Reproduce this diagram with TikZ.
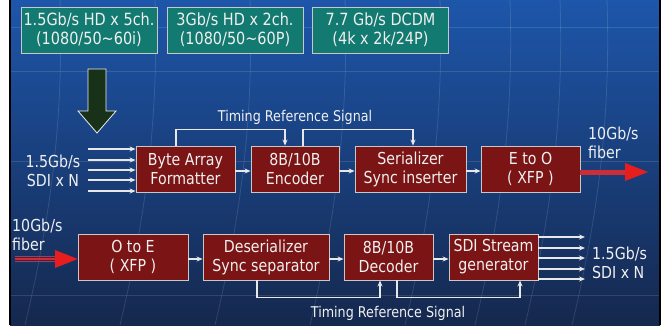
\documentclass[tikz,border=0pt]{standalone}
\usepackage{fontspec}
\setmainfont{DejaVu Sans}[FakeStretch=0.86]
\usetikzlibrary{arrows.meta,calc}
\definecolor{bgtop}{RGB}{29,86,170}
\definecolor{bgmid}{RGB}{27,62,128}
\definecolor{bgbot}{RGB}{21,40,78}
\definecolor{boxred}{RGB}{123,20,20}
\definecolor{boxgreen}{RGB}{18,122,112}
\definecolor{edge}{RGB}{200,200,200}
\definecolor{txt}{RGB}{240,240,240}
\definecolor{wirec}{RGB}{232,232,232}
\definecolor{shaftred}{RGB}{205,45,55}
\definecolor{headred}{RGB}{232,30,30}
\definecolor{arrowgreen}{RGB}{24,50,26}
\tikzset{
  redbox/.style={draw=edge, fill=boxred, line width=0.9pt, text=txt, align=center,
    minimum height=46pt, inner sep=0pt, font=\fontsize{16.5}{19}\selectfont},
  greenbox/.style={draw=edge, fill=boxgreen, line width=0.9pt, text=txt, align=center,
    minimum height=46pt, minimum width=136pt, inner sep=0pt, font=\fontsize{16.8}{19}\selectfont},
  lbl/.style={text=txt, inner sep=0pt, font=\fontsize{16.5}{19}\selectfont},
  tlbl/.style={text=txt, inner sep=0pt, font=\fontsize{14.8}{18}\selectfont},
  wire/.style={draw=wirec, line width=1.1pt, -{Stealth[length=6pt,width=5pt]}},
  gridline/.style={draw=white, opacity=0.12, line width=0.8pt},
}
\begin{document}
\begin{tikzpicture}[x=1pt,y=-1pt]
\useasboundingbox (0,0) rectangle (663,325);
% background
\fill[white] (0,0) rectangle (663,325);
\shade[top color=bgtop, middle color=bgmid, bottom color=bgbot] (10,0) rectangle (660,325);
\draw[black, line width=1.5pt] (10,0) -- (10,325);
\draw[black, line width=1.5pt] (660,0) -- (660,325);
% faint grid
\foreach \yy in {27,71,161,295} \draw[gridline] (11,\yy) -- (659,\yy);
\foreach \xx in {60,155,250,345,440,510,560,607}
  \draw[gridline] (\xx,0) .. controls (\xx+4,120) and (\xx-10,220) .. (\xx-35,325);

% green boxes
\node[greenbox] (g1) at (89,30) {1.5Gb/s HD x 5ch.\\(1080/50\textasciitilde 60i)};
\node[greenbox] (g2) at (235,30) {3Gb/s HD x 2ch.\\(1080/50\textasciitilde 60P)};
\node[greenbox] (g3) at (380.5,30) {7.7 Gb/s DCDM\\(4k x 2k/24P)};

% green down arrow
\draw[fill=arrowgreen, draw=white!85!gray, line width=0.8pt]
  (88,69) -- (106,69) -- (106,111) -- (116,111) -- (97,133) -- (78,111) -- (88,111) -- cycle;

% top row
\node[redbox, minimum width=99pt] (ba) at (185.5,169) {Byte Array\\Formatter};
\node[redbox, minimum width=88pt] (enc) at (295,169) {8B/10B\\Encoder};
\node[redbox, minimum width=111pt] (ser) at (410.5,169) {Serializer\\Sync inserter};
\node[redbox, minimum width=99pt] (eto) at (530.5,169) {E to O\\( XFP )};

% bottom row
\node[redbox, minimum width=110pt] (ote) at (133,257) {O to E\\( XFP )};
\node[redbox, minimum width=126pt] (de) at (266,257) {Deserializer\\Sync separator};
\node[redbox, minimum width=89pt] (dec) at (388.5,257) {8B/10B\\Decoder};
\node[redbox, minimum width=89pt] (sdi) at (493.5,257) {SDI Stream\\generator};

% labels
\node[lbl, align=center] (inl) at (53,170.5) {1.5Gb/s\\SDI x N};
\node[lbl, align=left, anchor=west] (outl) at (592,262.5) {1.5Gb/s\\SDI x N};
\node[lbl, align=left, anchor=west] (fo) at (588,142.5) {10Gb/s\\fiber};
\node[lbl, align=left, anchor=west] (fi) at (12,234.5) {10Gb/s\\fiber};
\node[tlbl] (trs1) at (295,117) {Timing Reference Signal};
\node[tlbl] (trs2) at (388,313) {Timing Reference Signal};

% input arrows
\foreach \k/\yy in {1/149,2/160,3/170,4/180,5/191}{
  \coordinate (i\k) at (88,\yy);
  \draw[wire] (i\k) -- (i\k -| ba.west);
}
% output arrows
\foreach \k/\yy in {1/237,2/248,3/258,4/269,5/279}{
  \coordinate (o\k) at (585,\yy);
  \draw[wire] (o\k -| sdi.east) -- (o\k);
}

% chain arrows
\draw[wire] ([yshift=-2pt]ba.east) -- ([yshift=-2pt]enc.west);
\draw[wire] ([yshift=-2pt]enc.east) -- ([yshift=-2pt]ser.west);
\draw[wire] ([yshift=-2pt]ser.east) -- ([yshift=-2pt]eto.west);
\draw[wire] ([yshift=-2pt]ote.east) -- ([yshift=-2pt]de.west);
\draw[wire] ([yshift=-2pt]de.east) -- ([yshift=-2pt]dec.west);
\draw[wire] ([yshift=-2pt]dec.east) -- ([yshift=-2pt]sdi.west);

% timing reference lines (top)
\draw[wire] ([xshift=-9.5pt]ba.north) -- ++(0,-16) -| ([xshift=-10pt]enc.north);
\draw[wire] ([xshift=8pt]enc.north) -- ++(0,-16) -| ([xshift=2.5pt]ser.north);
% timing reference lines (bottom)
\draw[wire] ([xshift=-9pt]de.south) -- ++(0,17) -| ([xshift=-8.5pt]dec.south);
\draw[wire] ([xshift=8.5pt]dec.south) -- ++(0,17) -| ([xshift=26.5pt]sdi.south);

% red fiber arrow out
\coordinate (fout) at (648,172);
\draw[shaftred, line width=5pt] ([yshift=-3pt]eto.east) -- (626,172);
\fill[headred] (625,163) -- (fout) -- (625,181) -- cycle;

% red fiber arrow in (triple line)
\coordinate (fin) at (15,259);
\draw[shaftred, line width=1.3pt] ($(fin)+(0,-2.4)$) -- ++(42,0);
\draw[shaftred, line width=1.3pt] ($(fin)+(0,2.4)$) -- ++(42,0);
\draw[shaftred, line width=1.3pt] (fin) -- ++(42,0);
\fill[headred] (55,250) -- ([yshift=-2pt]ote.west) -- (55,268) -- cycle;
\end{tikzpicture}
\end{document}
